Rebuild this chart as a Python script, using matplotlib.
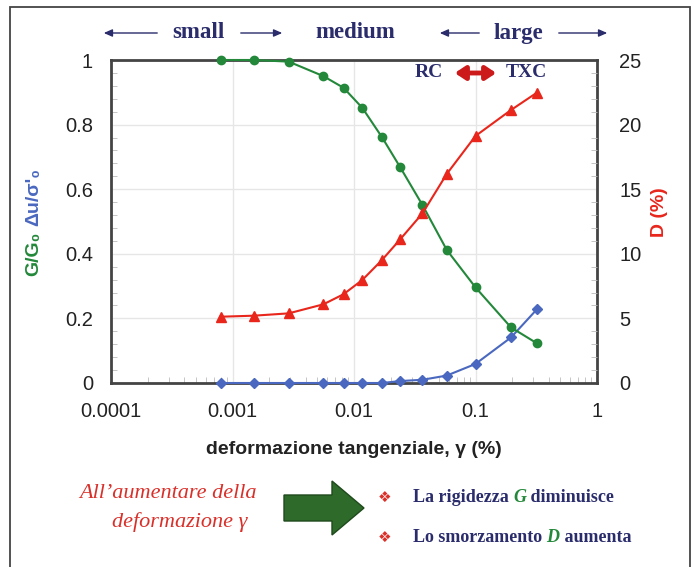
import matplotlib
matplotlib.use("Agg")
import matplotlib.pyplot as plt
from matplotlib.patches import FancyArrow, FancyArrowPatch, Rectangle
from matplotlib.ticker import FixedLocator, NullFormatter, MultipleLocator

# data
gamma = [0.0008, 0.0015, 0.0029, 0.0056, 0.0082, 0.0117, 0.017, 0.024,
         0.0366, 0.058, 0.1, 0.196, 0.32]
g_g0 = [1.0, 1.0, 0.995, 0.95, 0.914, 0.852, 0.761, 0.668, 0.551, 0.412,
        0.296, 0.172, 0.123]
damping = [5.13, 5.21, 5.39, 6.09, 6.87, 7.97, 9.52, 11.12, 13.13, 16.18,
           19.12, 21.13, 22.47]
du_sigma = [0, 0, 0, 0, 0, 0, 0, 0.006, 0.01, 0.023, 0.059, 0.141, 0.228]

x_ticks = [0.0001, 0.001, 0.01, 0.1, 1]
x_labels = ["0.0001", "0.001", "0.01", "0.1", "1"]
left_ticks = [0, 0.2, 0.4, 0.6, 0.8, 1]
left_labels = ["0", "0.2", "0.4", "0.6", "0.8", "1"]
right_ticks = [0, 5, 10, 15, 20, 25]

GREEN = "#23883a"
RED = "#e8261c"
BLUE = "#4a68bf"
NAVY = "#2a2c6b"

W, H = 694, 567


def fx(x):
    return x / W


def fy(y):
    return 1 - y / H


def main() -> None:
    fig = plt.figure(figsize=(W / 100, H / 100), dpi=100)
    sans = ["Liberation Sans", "DejaVu Sans"]
    serif = "Liberation Serif"

    # outer frame
    fig.add_artist(Rectangle((fx(10), fy(575)), fx(680), 575 / H - 7 / H,
                             transform=fig.transFigure, fill=False,
                             ec="#444444", lw=1.3))

    ax = fig.add_axes([fx(111), fy(383), fx(597 - 111), (383 - 60) / H])
    ax.set_xscale("log")
    ax.set_xlim(0.0001, 1)
    ax.set_ylim(0, 1)
    ax.grid(True, which="major", color="#e6e6e6", lw=1.0)
    ax.set_axisbelow(True)

    ax.plot(gamma, g_g0, color=GREEN, lw=1.5, marker="o", ms=6,
            clip_on=False, zorder=4)
    ax.plot(gamma, du_sigma, color=BLUE, lw=1.5, marker="D", ms=5,
            clip_on=False, zorder=3)

    ax.xaxis.set_major_locator(FixedLocator(x_ticks))
    ax.set_xticklabels(x_labels)
    ax.set_yticks(left_ticks)
    ax.set_yticklabels(left_labels)
    ax.yaxis.set_minor_locator(MultipleLocator(0.04))
    ax.xaxis.set_minor_formatter(NullFormatter())
    ax.tick_params(axis="both", which="both", direction="in",
                   color="#bbbbbb", labelsize=14.5)
    ax.tick_params(axis="both", which="major", length=0)
    ax.tick_params(axis="both", which="minor", length=4)
    ax.tick_params(axis="y", pad=13, labelcolor="#222222")
    ax.tick_params(axis="x", pad=14, labelcolor="#222222")
    for lab in ax.get_xticklabels() + ax.get_yticklabels():
        lab.set_family(sans)
    for s in ax.spines.values():
        s.set_color("#444444")
        s.set_linewidth(2)

    ax2 = ax.twinx()
    ax2.set_ylim(0, 25)
    ax2.plot(gamma, damping, color=RED, lw=1.5, marker="^", ms=7,
             clip_on=False, zorder=4)
    ax2.set_yticks(right_ticks)
    ax2.yaxis.set_minor_locator(MultipleLocator(1))
    ax2.tick_params(axis="y", which="both", direction="in", color="#bbbbbb",
                    labelsize=14.5, pad=16, labelcolor="#222222")
    ax2.tick_params(axis="y", which="major", length=0)
    ax2.tick_params(axis="y", which="minor", length=4)
    for lab in ax2.get_yticklabels():
        lab.set_family(sans)
    for s in ax2.spines.values():
        s.set_visible(False)

    ax.set_xlabel("deformazione tangenziale, γ (%)", family=sans,
                  fontweight="bold", fontsize=14, color="#222222",
                  labelpad=14)

    fig.text(fx(660), fy(212), "D (%)", rotation=90, ha="center",
             va="center", color=RED, family=sans, fontweight="bold",
             fontsize=14)

    # strain ranges on top
    hdr = dict(family=serif, fontweight="bold", fontsize=16.5, color=NAVY,
               ha="center", va="center")
    fig.text(fx(198), fy(33), "small", **hdr)
    fig.text(fx(355), fy(33), "medium", **hdr)
    fig.text(fx(518), fy(33), "large", **hdr)
    for x0, x1 in [(160, 101), (238, 285), (482, 437), (556, 610)]:
        fig.add_artist(FancyArrowPatch((fx(x0), fy(33)), (fx(x1), fy(33)),
                                       transform=fig.transFigure,
                                       arrowstyle="-|>,head_length=5,head_width=2.2",
                                       color=NAVY, lw=1.0))

    # RC <-> TXC
    lab = dict(family=serif, fontweight="bold", fontsize=14, color=NAVY,
               ha="center", va="center")
    fig.text(fx(429), fy(73), "RC", **lab)
    fig.text(fx(526), fy(73), "TXC", **lab)
    fig.add_artist(FancyArrowPatch((fx(452), fy(73)), (fx(499), fy(73)),
                                   transform=fig.transFigure,
                                   arrowstyle="<|-|>,head_length=6,head_width=4",
                                   color="#cc1a1a", lw=3.5))

    # bottom note
    note = dict(family=serif, style="italic", fontsize=16, color="#d9302a",
                ha="center", va="center")
    fig.text(fx(168), fy(493), "All’aumentare della", **note)
    fig.text(fx(180), fy(522), "deformazione γ", **note)

    fig.add_artist(FancyArrow(fx(284), fy(508), fx(80), 0, width=26 / H,
                              head_width=54 / H, head_length=fx(32),
                              length_includes_head=True,
                              transform=fig.transFigure, fc="#2e6a2a",
                              ec="#1e4a1c", lw=1))

    fig.canvas.draw()
    renderer = fig.canvas.get_renderer()

    # left label in two colours, stacked bottom to top
    y = fy(276)
    for txt, col in [("G/G₀", GREEN), ("Δu/σ'₀", BLUE)]:
        t = fig.text(fx(34), y, txt, rotation=90, ha="center", va="bottom",
                     color=col, family=sans, fontweight="bold", fontsize=14)
        bb = t.get_window_extent(renderer)
        y += (bb.height + 6) / H

    lines = [
        (497, [("La rigidezza ", NAVY, "normal"), ("G", GREEN, "italic"),
               (" diminuisce", NAVY, "normal")]),
        (537, [("Lo smorzamento ", NAVY, "normal"), ("D", GREEN, "italic"),
               (" aumenta", NAVY, "normal")]),
    ]
    for y, parts in lines:
        fig.text(fx(385), fy(y), "❖", color="#d9302a", fontsize=11,
                 family="DejaVu Sans", ha="center", va="center")
        x = fx(413)
        for txt, col, st in parts:
            t = fig.text(x, fy(y), txt, color=col, style=st, family=serif,
                         fontweight="bold", fontsize=13, ha="left",
                         va="center")
            bb = t.get_window_extent(renderer)
            x += bb.width / W

    fig.savefig("out.png", dpi=100)


if __name__ == "__main__":
    main()
